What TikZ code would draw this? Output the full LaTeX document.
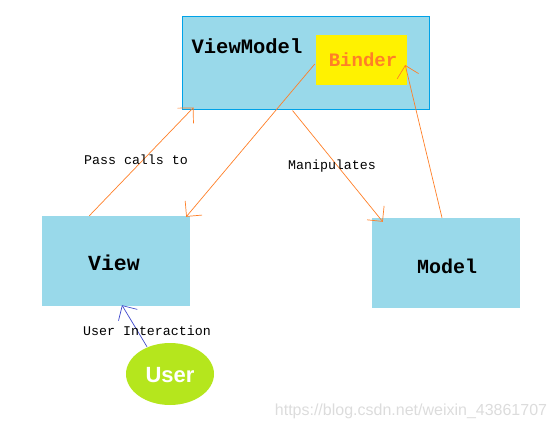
\documentclass[tikz,border=0pt]{standalone}
\usepackage{fontspec}
\setmonofont{Liberation Mono}
\newfontfamily\lsans{Liberation Sans}
\usetikzlibrary{arrows.meta,calc,shapes.geometric}
\definecolor{pblue}{HTML}{99D9EA}
\definecolor{pborder}{HTML}{00A2E8}
\definecolor{pyellow}{HTML}{FFF200}
\definecolor{porange}{HTML}{FF7F27}
\definecolor{pgreen}{HTML}{B5E61D}
\definecolor{pindigo}{HTML}{3F48CC}
\definecolor{wmgray}{HTML}{DCDCDC}
\tikzset{
  box/.style={rectangle, fill=pblue, inner sep=0pt, minimum width=148pt, minimum height=90pt},
  boxtext/.style={font=\ttfamily\bfseries\fontsize{20}{24}\selectfont, text=black, inner sep=0pt},
  lbl/.style={font=\ttfamily\fontsize{13.3}{16}\selectfont, text=black, inner sep=0pt},
  oarrow/.style={draw=porange, line width=0.7pt, -{Straight Barb[length=11pt,width=22pt,line width=0.7pt]}},
  barrow/.style={draw=pindigo, line width=0.7pt, -{Straight Barb[length=11pt,width=22pt,line width=0.7pt]}}
}
\begin{document}
\begin{tikzpicture}[x=1pt,y=-1pt]
\useasboundingbox (0,0) rectangle (556,430);
% ViewModel
\node[rectangle, draw=pborder, line width=1pt, fill=pblue, inner sep=0pt, minimum width=247pt, minimum height=93pt] (vm) at (305.5,63.5) {};
\node[boxtext, font=\ttfamily\bfseries\fontsize{20.5}{24}\selectfont] (vmtext) at (247,46) {ViewModel};
\node[rectangle, fill=pyellow, inner sep=0pt, minimum width=91pt, minimum height=50pt] (binder) at (361.5,60) {};
\node[boxtext, text=porange, font=\ttfamily\bfseries\fontsize{19}{22}\selectfont] (bindertext) at (363,60) {Binder};
% View, Model
\node[box] (view) at (116,261) {};
\node[boxtext, font=\ttfamily\bfseries\fontsize{21.5}{24}\selectfont] (viewtext) at (114,263) {View};
\node[box] (model) at (446,263) {};
\node[boxtext] (modeltext) at (447,266) {Model};
% User
\node[ellipse, fill=pgreen, inner sep=0pt, minimum width=88pt, minimum height=62pt] (user) at (170,374) {};
\node[font=\lsans\bfseries\fontsize{22}{26}\selectfont, text=white, inner sep=0pt] (usertext) at (170,375) {User};
% connectors
\draw[oarrow] ($(view.north west)!0.32!(view.north east)$) -- ($(vm.south west)+(12,-3)$);
\draw[oarrow] ($(binder.west)+(-1,4)$) -- ($(view.north east)+(-4,1)$);
\draw[oarrow] ($(vm.south west)+(111,0)$) -- ($(model.north west)+(11,4)$);
\draw[oarrow] ($(model.north)+(-4,0)$) -- ($(binder.east)+(-2,5)$);
\draw[barrow] ($(user.north)+(-23,4)$) -- ($(view.south)+(6,-1)$);
% labels
\node[lbl] (passlbl) at (136,160) {Pass calls to};
\node[lbl] (maniplbl) at (332,166) {Manipulates};
\node[lbl] (uilbl) at (147,331) {User Interaction};
% watermark
\node[font=\lsans\fontsize{16}{18}\selectfont, text=wmgray, inner sep=0pt] (wm) at (411,411) {https://blog.csdn.net/weixin\_43861707};
\end{tikzpicture}
\end{document}
